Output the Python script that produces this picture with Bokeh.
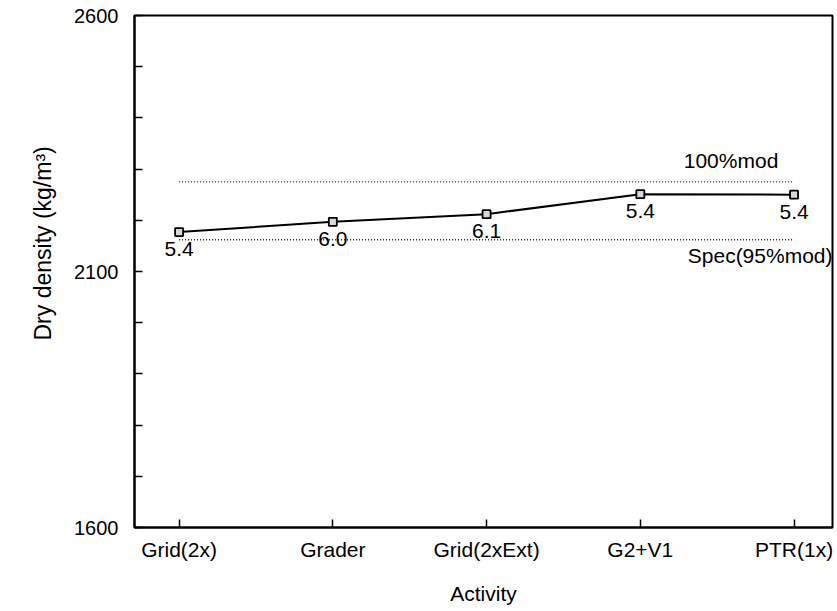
from bokeh.plotting import figure
from bokeh.models import FixedTicker, ColumnDataSource, Range1d, Title
from bokeh.core.properties import value
from bokeh.embed import file_html
from bokeh.resources import INLINE

# ---- data ----
activities = ["Grid(2x)", "Grader", "Grid(2xExt)", "G2+V1", "PTR(1x)"]
dry_density = [2177, 2197, 2212, 2251, 2250]          # kg/m3
moisture_labels = ["5.4", "6.0", "6.1", "5.4", "5.4"]  # point annotations
mod_100 = 2275          # 100% mod AASHTO density
spec_95 = 2162          # spec (95% mod)
y_tick_values = [1600, 1700, 1800, 1900, 2000, 2100, 2200, 2300, 2400, 2500, 2600]
y_tick_text = {1600: "1600", 2100: "2100", 2600: "2600"}
ref_labels = ["100%mod", "Spec(95%mod)"]
x_title = "Activity"
y_title = "Dry density (kg/m\u00b3)"

FONT = "Liberation Sans"

x_pos = list(range(1, len(activities) + 1))

p = figure(width=837, height=611,
           x_range=Range1d(0.71, 5.25), y_range=Range1d(1600, 2600),
           output_backend="svg", toolbar_location=None,
           min_border_left=134, min_border_right=5,
           min_border_top=15, min_border_bottom=84)

p.xgrid.visible = False
p.ygrid.visible = False
p.outline_line_color = "black"
p.outline_line_width = 2
p.background_fill_color = "white"
p.border_fill_color = "white"

# reference lines
p.line([x_pos[0], x_pos[-1]], [mod_100, mod_100], line_color="#222222",
       line_width=1.4, line_dash="1 2")
p.line([x_pos[0], x_pos[-1]], [spec_95, spec_95], line_color="#222222",
       line_width=1.4, line_dash="1 2")

# data
src = ColumnDataSource(dict(x=x_pos, y=dry_density, lab=moisture_labels))
p.line("x", "y", source=src, line_color="black", line_width=2)
p.scatter("x", "y", source=src, marker="square", size=8, fill_color="#d8d8d8",
          line_color="black", line_width=1.8)
p.text("x", "y", text="lab", source=src, text_font=value(FONT),
       text_font_size="21px", text_align="center", text_baseline="middle",
       y_offset=17, text_color="black")

# reference line labels
p.text([4.59], [mod_100], text=[ref_labels[0]], text_font=value(FONT),
       text_font_size="21px", text_align="center", text_baseline="middle",
       y_offset=-21, text_color="black")
p.text([5.25], [spec_95], text=[ref_labels[1]], text_font=value(FONT),
       text_font_size="21px", text_align="right", text_baseline="middle",
       y_offset=16, text_color="black")

# x axis
xa = p.xaxis[0]
xa.ticker = FixedTicker(ticks=x_pos)
xa.major_label_overrides = {i: a for i, a in zip(x_pos, activities)}
xa.axis_label = x_title
xa.minor_tick_line_color = None
xa.major_tick_in = 8
xa.major_tick_out = 0
xa.axis_line_width = 2
xa.major_tick_line_width = 1.5
xa.major_label_text_font = FONT
xa.major_label_text_font_size = "21px"
xa.major_label_text_color = "black"
xa.major_label_standoff = 10
xa.axis_label_text_font = FONT
xa.axis_label_text_font_size = "21px"
xa.axis_label_text_font_style = "normal"
xa.axis_label_text_color = "black"
xa.axis_label_standoff = 18

# y axis
ya = p.yaxis[0]
ya.ticker = FixedTicker(ticks=y_tick_values)
ya.major_label_overrides = {v: y_tick_text.get(v, "") for v in y_tick_values}
ya.minor_tick_line_color = None
ya.major_tick_in = 8
ya.major_tick_out = 0
ya.axis_line_width = 2
ya.major_tick_line_width = 1.5
ya.major_label_text_font = FONT
ya.major_label_text_font_size = "20px"
ya.major_label_text_color = "black"
ya.major_label_standoff = 16

# y title as a side title (lets it sit a little above the frame centre)
p.add_layout(Title(text=y_title, align="left", offset=187, standoff=32,
                   text_font=FONT, text_font_size="23px",
                   text_font_style="normal", text_color="black"), "left")

open("out.html", "w").write(file_html(p, INLINE))
